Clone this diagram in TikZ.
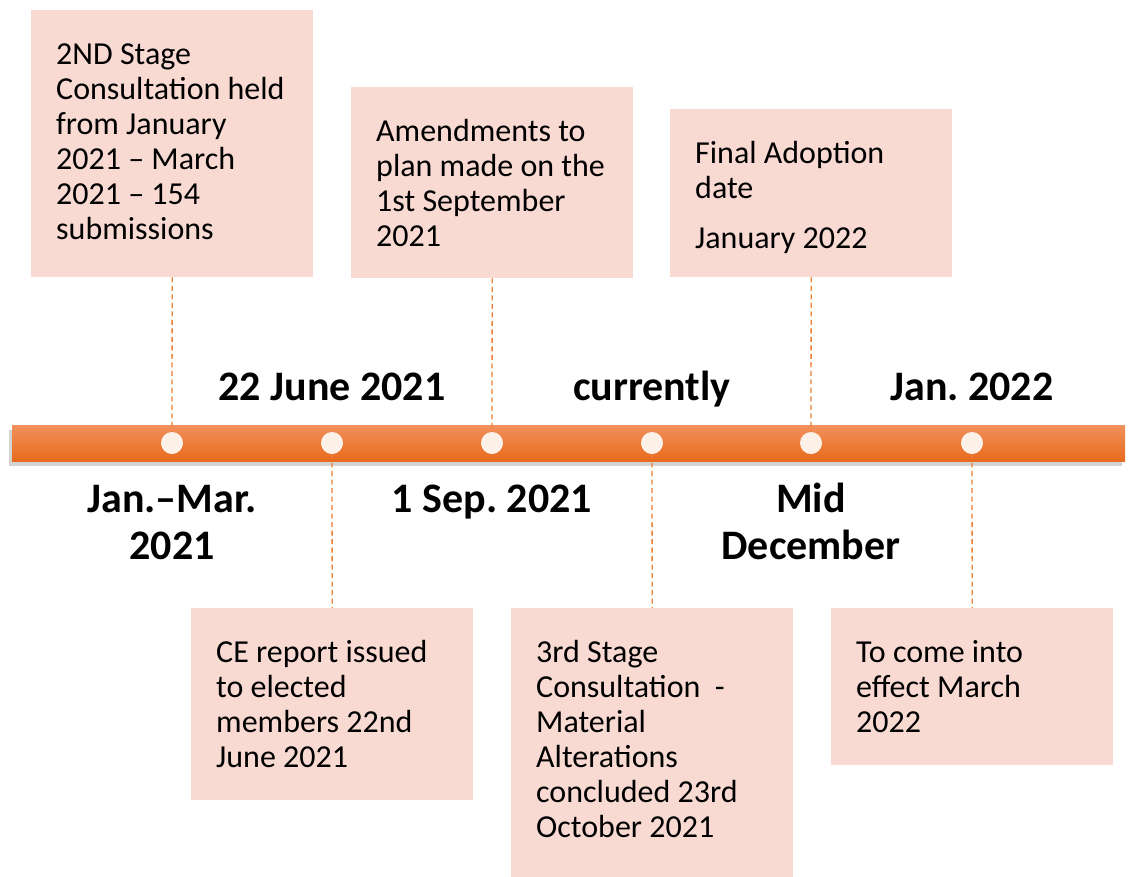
\documentclass[tikz,border=0pt]{standalone}
\usepackage{fontspec}
\setmainfont{Carlito}
\usetikzlibrary{shadows}
\frenchspacing

\definecolor{boxpink}{RGB}{248,218,210}
\definecolor{tlorange}{RGB}{237,125,49}
\definecolor{bartop}{RGB}{241,145,92}
\definecolor{barmid}{RGB}{244,126,44}
\definecolor{barbot}{RGB}{232,106,28}
\definecolor{dotfill}{RGB}{253,240,230}

\tikzset{
    event/.style={fill=boxpink, anchor=north west, inner xsep=25pt, inner ysep=0pt,
        text width=232pt, align=flush left, text height=54pt,
        font=\fontsize{32}{35}\selectfont},
    milestone/.style={circle, fill=dotfill, minimum size=22pt, inner sep=0pt},
    when/.style={anchor=base, text width=330pt, align=flush center, inner sep=0pt,
        font=\fontsize{42}{47}\selectfont\bfseries},
    link/.style={draw=tlorange, line width=1.3pt, dash pattern=on 5pt off 3.5pt},
}

\begin{document}
\begin{tikzpicture}[x=1pt,y=-1pt]
    \useasboundingbox (0,0) rectangle (1129,876);
    % bar
    \fill[top color=bartop, middle color=barmid, bottom color=barbot,
        drop shadow={shadow xshift=-3pt, shadow yshift=-5pt, opacity=.35}]
        (12,425) rectangle (1125,461);
    % dots
    \node[milestone] (d1) at (172,443) {};
    \node[milestone] (d2) at (332,443) {};
    \node[milestone] (d3) at (492,443) {};
    \node[milestone] (d4) at (652,443) {};
    \node[milestone] (d5) at (811,443) {};
    \node[milestone] (d6) at (972,443) {};
    % upper boxes
    \node[event, text depth=213pt] (b1) at (31,10)
        {2ND Stage\\Consultation held\\from January\\2021 – March\\2021 – 154\\submissions};
    \node[event, text depth=137pt] (b2) at (351,87)
        {Amendments to\\plan made on the\\1st September\\2021};
    \node[event, text depth=114pt] (b3) at (670,109)
        {Final Adoption\\date\\[15pt]January 2022};
    % lower boxes
    \node[event, text depth=138pt] (b4) at (191,608)
        {CE report issued\\to elected\\members 22nd\\June 2021};
    \node[event, text depth=215pt] (b5) at (511,608)
        {3rd Stage\\Consultation~ -\\Material\\Alterations\\concluded 23rd\\October 2021};
    \node[event, text depth=103pt] (b6) at (831,608)
        {To come into\\effect March\\2022};
    % links
    \draw[link] (b1.south) -- (d1.north);
    \draw[link] (b2.south) -- (d3.north);
    \draw[link] (b3.south) -- (d5.north);
    \draw[link] (d2.south) -- (b4.north);
    \draw[link] (d4.south) -- (b5.north);
    \draw[link] (d6.south) -- (b6.north);
    % dates
    \node[when] (t1) at (172,512) {Jan.–Mar.\\2021};
    \node[when] (t2) at (332,400) {22 June 2021};
    \node[when] (t3) at (492,512) {1 Sep. 2021};
    \node[when] (t4) at (652,400) {currently};
    \node[when] (t5) at (811,512) {Mid\\December};
    \node[when] (t6) at (972,400) {Jan. 2022};
\end{tikzpicture}
\end{document}
